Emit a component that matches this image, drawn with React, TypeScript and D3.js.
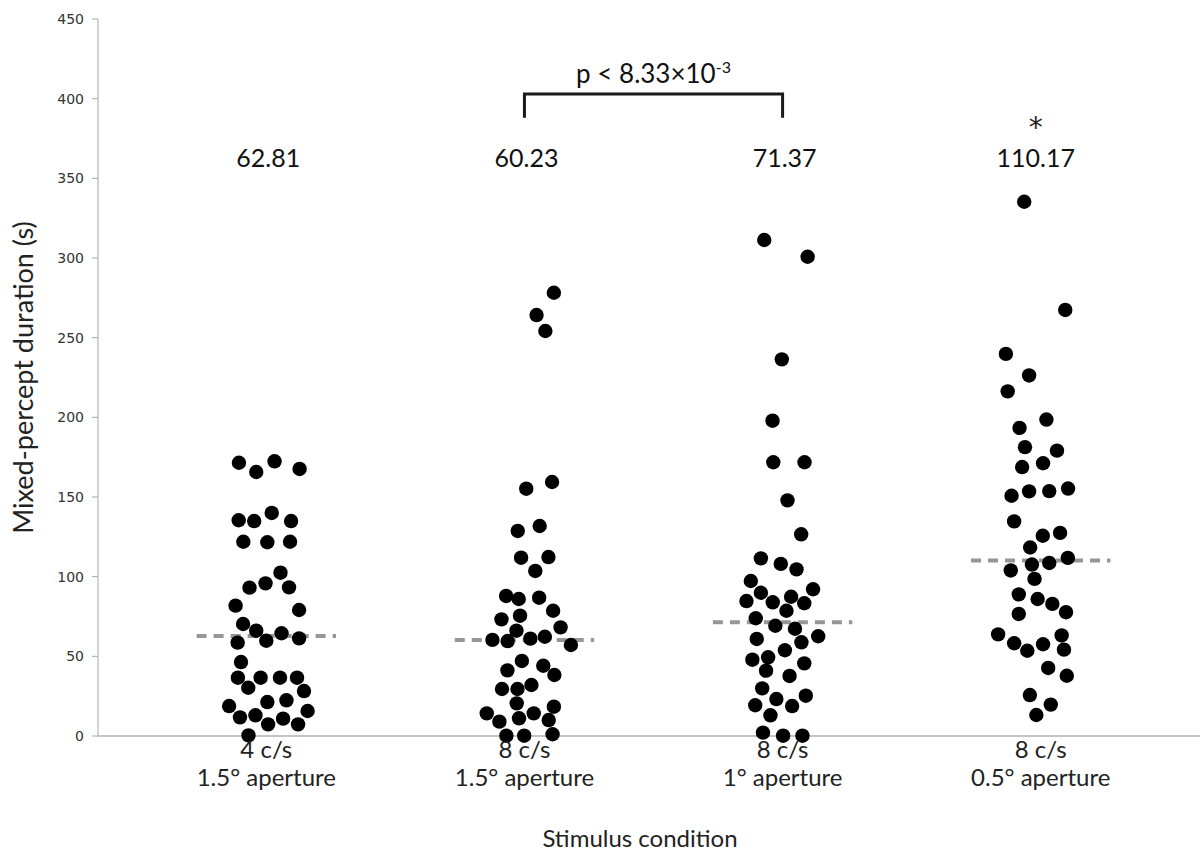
import React from "react";
import * as d3 from "d3";

// Conditions (x positions 1..4) with per-dot horizontal jitter and durations (s)
const conditions = ["4 c/s|1.5°  aperture", "8 c/s|1.5° aperture", "8 c/s|1° aperture", "8 c/s|0.5° aperture"];
const means = [62.81, 60.23, 71.37, 110.17];
const meanLabels = ["62.81", "60.23", "71.37", "110.17"];

const cond1Jitter = [-0.106, -0.039, 0.032, 0.129, -0.107, -0.047, 0.021, 0.096, -0.089, 0.004, 0.092, 0.055, -0.003, -0.065, 0.088, -0.119, 0.127, -0.09, -0.039, 0.059, -0.111, 0, 0.127, -0.098, -0.11, -0.022, 0.053, 0.119, -0.07, 0.146, 0.004, 0.078, -0.144, -0.102, -0.042, 0.065, 0.16, 0.007, 0.123, -0.069];
const cond1Values = [171.5, 165.7, 172.4, 167.6, 135.4, 134.9, 140.0, 134.9, 121.9, 121.6, 121.9, 102.5, 95.8, 93.1, 93.3, 81.8, 79.1, 70.3, 66.1, 64.5, 58.6, 59.8, 61.3, 46.4, 36.6, 36.6, 36.6, 36.6, 30.3, 28.2, 21.3, 22.4, 18.8, 11.7, 13.0, 10.9, 15.7, 7.3, 7.3, 0.4];

const cond2Jitter = [0.114, 0.047, 0.081, 0.107, 0.007, 0.059, -0.026, 0.093, -0.013, 0.042, -0.071, -0.022, 0.057, 0.111, -0.089, -0.017, 0.14, -0.031, -0.124, -0.065, 0.023, 0.079, 0.18, -0.01, -0.066, 0.073, 0.116, -0.087, -0.027, 0.027, -0.03, -0.146, -0.097, -0.021, 0.036, 0.114, 0.094, -0.07, -0.001, 0.109];
const cond2Values = [278.2, 264.2, 254.2, 159.4, 155.2, 131.8, 128.7, 112.3, 111.9, 103.6, 87.9, 86.0, 86.8, 78.6, 73.2, 75.5, 68.2, 66.1, 60.3, 59.6, 61.1, 62.3, 57.1, 47.1, 41.2, 44.1, 38.3, 29.5, 29.5, 32.0, 20.5, 14.2, 9.0, 11.1, 14.2, 18.4, 10.0, 0.2, 0.2, 1.1];

const cond3Jitter = [-0.071, 0.097, -0.003, -0.039, -0.036, 0.085, 0.019, 0.072, -0.084, -0.007, 0.054, -0.123, -0.084, 0.033, 0.118, -0.14, -0.038, 0.084, 0.015, -0.104, -0.028, 0.048, 0.138, -0.1, 0.073, 0.009, -0.117, -0.056, -0.064, 0.084, 0.027, -0.079, -0.024, 0.09, -0.106, 0.037, -0.047, -0.076, 0.002, 0.077];
const cond3Values = [311.3, 300.8, 236.4, 197.9, 171.8, 171.8, 147.9, 126.6, 111.5, 108.0, 104.6, 97.3, 89.9, 87.4, 92.1, 84.7, 83.9, 83.3, 78.6, 73.9, 69.2, 67.3, 62.6, 60.9, 58.8, 53.8, 47.9, 49.4, 41.0, 45.6, 37.7, 29.9, 23.2, 25.3, 19.3, 18.8, 13.0, 2.1, 0.2, 0.2];

const cond4Jitter = [-0.064, 0.095, -0.135, -0.045, -0.128, 0.022, -0.082, -0.061, 0.063, -0.072, 0.009, -0.113, -0.045, 0.033, 0.106, -0.103, 0.008, 0.075, -0.041, 0.105, -0.116, -0.034, 0.033, -0.024, -0.085, -0.012, 0.045, -0.085, 0.098, -0.165, -0.103, -0.052, 0.009, 0.081, 0.09, 0.029, 0.101, -0.042, 0.039, -0.017];
const cond4Values = [335.3, 267.4, 239.8, 226.3, 216.3, 198.6, 193.4, 181.3, 179.1, 168.8, 171.2, 150.8, 153.5, 153.7, 155.3, 134.7, 125.7, 127.5, 118.3, 111.8, 103.9, 107.6, 108.6, 98.6, 88.9, 86.0, 82.9, 76.6, 77.7, 63.8, 58.2, 53.5, 57.6, 63.1, 54.2, 42.7, 37.8, 25.7, 19.7, 13.2];

const jitters = [cond1Jitter, cond2Jitter, cond3Jitter, cond4Jitter];
const values = [cond1Values, cond2Values, cond3Values, cond4Values];

const yTicks = [0, 50, 100, 150, 200, 250, 300, 350, 400, 450];

const W = 1200;
const H = 854;

export default function App() {
  const x = d3.scaleLinear().domain([0.348, 4.617]).range([98, 1200]);
  const y = d3.scaleLinear().domain([0, 450]).range([736, 19]);

  const textFont = "Lato, 'Open Sans', sans-serif";
  const tickFont = "'DejaVu Sans', Verdana, sans-serif";
  const x0 = x(0.348);

  const dots = values.flatMap((vals, ci) =>
    vals.map((v, i) => ({ cx: x(ci + 1 + jitters[ci][i]), cy: y(v), key: `${ci}-${i}` }))
  );

  return (
    <svg
      width={W}
      height={H}
      style={{ position: "absolute", left: 0, top: 0, background: "#fff" }}
    >
      {/* y axis */}
      <line x1={x0} x2={x0} y1={y(450)} y2={y(0)} stroke="#a6a6a6" strokeWidth={1} />
      {yTicks.map((t) => (
        <g key={t}>
          <line x1={x0 - 6} x2={x0} y1={y(t)} y2={y(t)} stroke="#a6a6a6" />
          <text
            x={x0 - 14}
            y={y(t)}
            dy="0.35em"
            textAnchor="end"
            fontFamily={tickFont}
            fontSize={14}
            fill="#333"
          >
            {t}
          </text>
        </g>
      ))}
      {/* x axis */}
      <line x1={x0} x2={W} y1={y(0)} y2={y(0)} stroke="#b0b0b0" strokeWidth={1.5} />

      {/* mean lines */}
      {means.map((m, i) => (
        <line
          key={`m${i}`}
          x1={x(i + 1 - 0.27)}
          x2={x(i + 1 + 0.27)}
          y1={y(m)}
          y2={y(m)}
          stroke="#969696"
          strokeWidth={4}
          strokeDasharray="10,7"
        />
      ))}

      {/* dots */}
      {dots.map((d) => (
        <circle key={d.key} cx={d.cx} cy={d.cy} r={7.2} fill="#000" />
      ))}

      {/* mean labels */}
      {meanLabels.map((l, i) => (
        <text
          key={`l${i}`}
          x={x(i + 1) + (i === 3 ? -5 : 2)}
          y={y(357)}
          textAnchor="middle"
          fontFamily={textFont}
          fontSize={25}
          fill="#111"
        >
          {l}
        </text>
      ))}
      <text x={x(4) - 5} y={y(376)} textAnchor="middle" fontFamily="'DejaVu Sans', sans-serif" fontSize={28} fill="#222">
        *
      </text>

      {/* significance bracket */}
      <path
        d={`M${x(2)},${y(388)}V${y(403)}H${x(3)}V${y(388)}`}
        fill="none"
        stroke="#1a1a1a"
        strokeWidth={3}
      />
      <text x={(x(2) + x(3)) / 2} y={y(410)} textAnchor="middle" fontFamily={textFont} fontSize={26} fill="#111">
        p &lt; 8.33×10
        <tspan dy={-10} fontSize={16}>
          -3
        </tspan>
      </text>

      {/* category labels */}
      {conditions.map((c, i) => {
        const [a, b] = c.split("|");
        return (
          <text key={`c${i}`} textAnchor="middle" fontFamily={textFont} fontSize={24} fill="#222">
            <tspan x={x(i + 1)} y={y(0) + 22}>
              {a}
            </tspan>
            <tspan x={x(i + 1)} y={y(0) + 50}>
              {b}
            </tspan>
          </text>
        );
      })}

      {/* axis titles */}
      <text x={640} y={847} textAnchor="middle" fontFamily={textFont} fontSize={24} fill="#222">
        Stimulus condition
      </text>
      <text
        transform={`translate(33,${(y(0) + y(450)) / 2}) rotate(-90)`}
        textAnchor="middle"
        fontFamily={textFont}
        fontSize={27}
        fill="#222"
      >
        Mixed-percept duration (s)
      </text>
    </svg>
  );
}
